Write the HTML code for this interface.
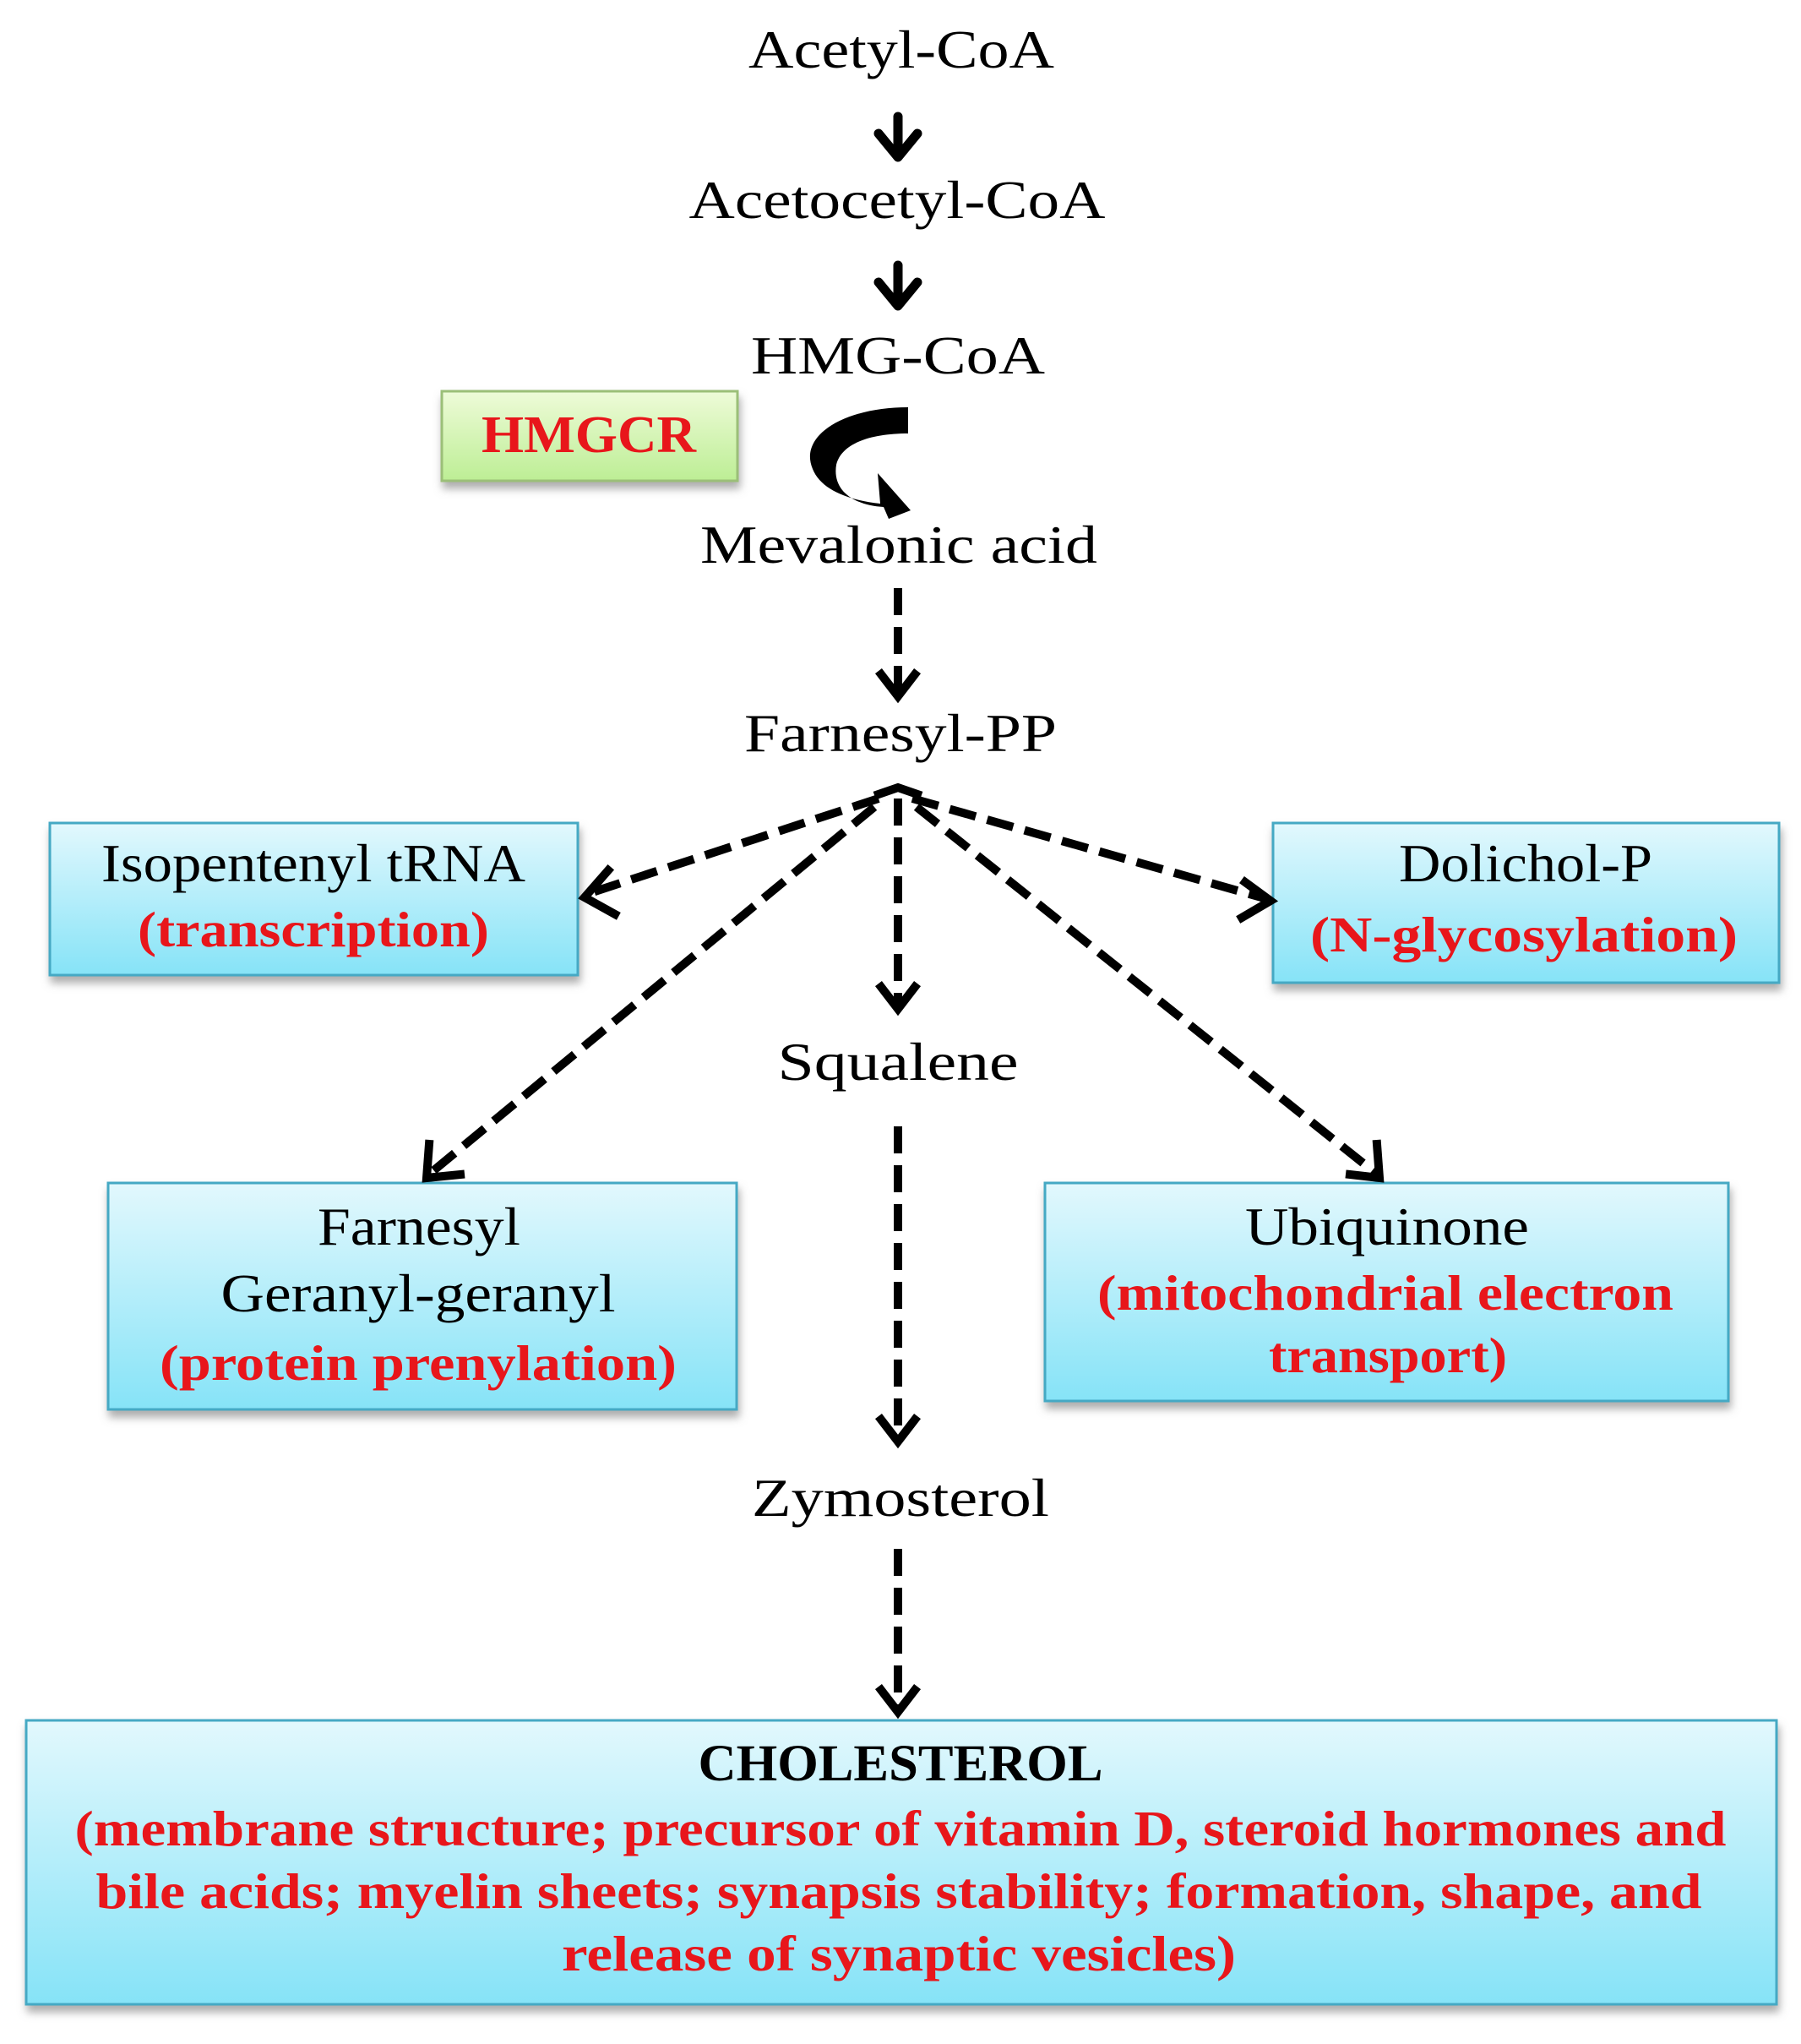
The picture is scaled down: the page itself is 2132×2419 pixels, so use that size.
<!DOCTYPE html>
<html><head><meta charset="utf-8"><style>
html,body{margin:0;padding:0;background:#fff}
svg{display:block}
text{font-family:"Liberation Serif",serif}
.k{font-size:64px;fill:#000}
.r{font-size:59px;fill:#e8161b;font-weight:bold}
</style></head><body>
<svg width="2132" height="2419" viewBox="0 0 2132 2419" xmlns="http://www.w3.org/2000/svg">
<defs>
<linearGradient id="cy" x1="0" y1="0" x2="0" y2="1">
<stop offset="0" stop-color="#e2f8fd"/><stop offset="1" stop-color="#86e3f7"/></linearGradient>
<linearGradient id="gr" x1="0" y1="0" x2="0" y2="1">
<stop offset="0" stop-color="#eefbd8"/><stop offset="1" stop-color="#bdee95"/></linearGradient>
<filter id="sh" x="-5%" y="-5%" width="110%" height="130%"><feDropShadow dx="2" dy="8" stdDeviation="5" flood-color="#777" flood-opacity="0.6"/></filter>
</defs>

<rect x="523" y="463" width="350" height="106" fill="url(#gr)" stroke="#9bbf78" stroke-width="3" filter="url(#sh)"/>
<rect x="59" y="974" width="625" height="180" fill="url(#cy)" stroke="#45a9c4" stroke-width="3" filter="url(#sh)"/>
<rect x="1507" y="974" width="599" height="189" fill="url(#cy)" stroke="#45a9c4" stroke-width="3" filter="url(#sh)"/>
<rect x="128" y="1400" width="744" height="268" fill="url(#cy)" stroke="#45a9c4" stroke-width="3" filter="url(#sh)"/>
<rect x="1237" y="1400" width="809" height="258" fill="url(#cy)" stroke="#45a9c4" stroke-width="3" filter="url(#sh)"/>
<rect x="31" y="2036" width="2072" height="336" fill="url(#cy)" stroke="#45a9c4" stroke-width="3" filter="url(#sh)"/>

<g stroke="#000" stroke-width="11" fill="none" stroke-linecap="round" stroke-linejoin="round">
<line x1="1063" y1="138" x2="1063" y2="184"/><polyline points="1040,158 1063,186 1086,158"/>
<line x1="1063" y1="314" x2="1063" y2="360"/><polyline points="1040,334 1063,362 1086,334"/>
</g>
<path d="M1075,482 C1000,482 945,515 962,555 C972,580 1005,592 1042,596 L1039,560 L1078,604 L1052,614 L1046,600 C1010,598 985,580 990,550 C996,525 1030,513 1075,513 Z" fill="#000"/>

<g stroke="#000" stroke-width="10" fill="none" stroke-dasharray="32 14">
<line x1="1063" y1="696" x2="1063" y2="818"/>
<line x1="1063" y1="945" x2="1063" y2="1190"/>
<line x1="1040" y1="945" x2="695" y2="1058"/>
<line x1="1080" y1="945" x2="1500" y2="1064"/>
<line x1="1035" y1="955" x2="510" y2="1388"/>
<line x1="1085" y1="955" x2="1628" y2="1388"/>
<line x1="1063" y1="1333" x2="1063" y2="1700"/>
<line x1="1063" y1="1833" x2="1063" y2="2020"/>
</g>
<g stroke="#000" stroke-width="10" fill="none" stroke-linejoin="miter" stroke-linecap="square">
<polyline points="1043,798 1063,824 1083,798"/>
<polyline points="1043,1168 1063,1194 1083,1168"/>
<polyline points="1043,1680 1063,1706 1083,1680"/>
<polyline points="1043,2000 1063,2026 1083,2000"/>
<polyline points="1040,940 1063,932 1086,940"/>
<polyline points="720,1030 692,1062 728,1082"/>
<polyline points="1474,1044 1504,1066 1470,1086"/>
<polyline points="508,1354 505,1394 545,1390"/>
<polyline points="1598,1390 1633,1394 1630,1354"/>
</g>

<g text-anchor="middle">
<text class="k" x="1067" y="80" textLength="362" lengthAdjust="spacingAndGlyphs">Acetyl-CoA</text>
<text class="k" x="1062" y="258" textLength="493" lengthAdjust="spacingAndGlyphs">Acetocetyl-CoA</text>
<text class="k" x="1063" y="442" textLength="348" lengthAdjust="spacingAndGlyphs">HMG-CoA</text>
<text x="697" y="535" style="font-size:62px;fill:#e8161b;font-weight:bold" textLength="254" lengthAdjust="spacingAndGlyphs">HMGCR</text>
<text class="k" x="1064" y="666" textLength="470" lengthAdjust="spacingAndGlyphs">Mevalonic  acid</text>
<text class="k" x="1066" y="889" textLength="370" lengthAdjust="spacingAndGlyphs">Farnesyl-PP</text>
<text class="k" x="371" y="1043" textLength="502" lengthAdjust="spacingAndGlyphs">Isopentenyl tRNA</text>
<text class="r" x="371" y="1120" textLength="416" lengthAdjust="spacingAndGlyphs">(transcription)</text>
<text class="k" x="1806" y="1043" textLength="300" lengthAdjust="spacingAndGlyphs">Dolichol-P</text>
<text class="r" x="1804" y="1126" textLength="506" lengthAdjust="spacingAndGlyphs">(N-glycosylation)</text>
<text class="k" x="1063" y="1278" textLength="285" lengthAdjust="spacingAndGlyphs">Squalene</text>
<text class="k" x="496" y="1473" textLength="240" lengthAdjust="spacingAndGlyphs">Farnesyl</text>
<text class="k" x="495" y="1552" textLength="467" lengthAdjust="spacingAndGlyphs">Geranyl-geranyl</text>
<text class="r" x="495" y="1633" textLength="612" lengthAdjust="spacingAndGlyphs">(protein prenylation)</text>
<text class="k" x="1642" y="1473" textLength="336" lengthAdjust="spacingAndGlyphs">Ubiquinone</text>
<text class="r" x="1640" y="1550" textLength="682" lengthAdjust="spacingAndGlyphs">(mitochondrial electron</text>
<text class="r" x="1643" y="1624" textLength="282" lengthAdjust="spacingAndGlyphs">transport)</text>
<text class="k" x="1066" y="1794" textLength="352" lengthAdjust="spacingAndGlyphs">Zymosterol</text>
<text x="1066" y="2107" style="font-size:61px;font-weight:bold;fill:#000" textLength="479" lengthAdjust="spacingAndGlyphs">CHOLESTEROL</text>
<text class="r" x="1066" y="2184" textLength="1955" lengthAdjust="spacingAndGlyphs">(membrane structure; precursor of vitamin D, steroid hormones and</text>
<text class="r" x="1064" y="2258" textLength="1901" lengthAdjust="spacingAndGlyphs">bile acids; myelin sheets; synapsis stability; formation, shape, and</text>
<text class="r" x="1064" y="2332" textLength="798" lengthAdjust="spacingAndGlyphs">release of synaptic vesicles)</text>
</g>
</svg>
</body></html>
